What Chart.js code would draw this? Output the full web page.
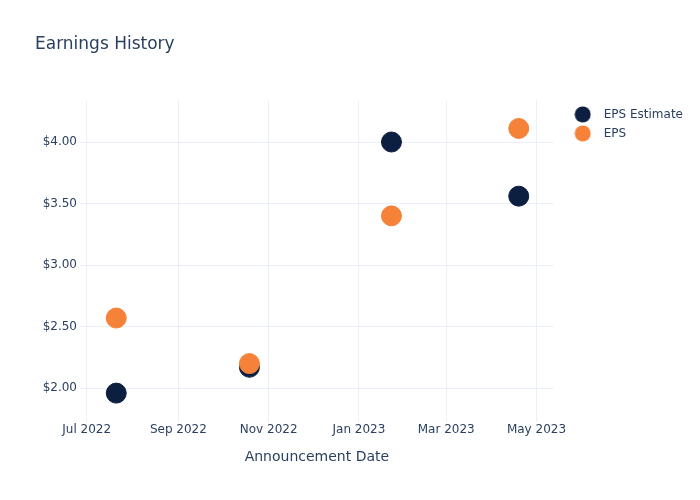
<!DOCTYPE html>
<html>
<head>
	<title>Earnings History</title>
	<script src="https://cdn.jsdelivr.net/npm/chart.js"></script>
	<style type="text/css">
		body { margin: 0; padding: 0; background: #fff; }
		#wrap { width: 700px; height: 500px; }
	</style>
</head>
<body>
	<div id="wrap"><canvas id="chart" width="700" height="500"></canvas></div>

	<script>
		// data
		var dates = ['2022-07-21', '2022-10-19', '2023-01-23', '2023-04-19'];
		var epsEstimate = [1.96, 2.17, 4.00, 3.56];
		var eps = [2.57, 2.20, 3.40, 4.11];

		var xTickDates = ['2022-07-01', '2022-09-01', '2022-11-01', '2023-01-01', '2023-03-01', '2023-05-01'];
		var xTickLabels = ['Jul 2022', 'Sep 2022', 'Nov 2022', 'Jan 2023', 'Mar 2023', 'May 2023'];
		var yTicks = [2.0, 2.5, 3.0, 3.5, 4.0];

		function ts(s) { return new Date(s + 'T00:00:00Z').getTime(); }

		var xTickValues = xTickDates.map(ts);
		var font = "'DejaVu Sans', Verdana, sans-serif";
		var textColor = '#2a3f5f';
		var gridColor = '#ebf0f8';

		// small round swatch for the legend
		function dot(color) {
			var c = document.createElement('canvas');
			c.width = 17; c.height = 17;
			var g = c.getContext('2d');
			g.fillStyle = color;
			g.beginPath();
			g.arc(8.5, 8.5, 8, 0, Math.PI * 2);
			g.fill();
			return c;
		}

		// nudge the legend to the right of the plot area, like the original
		var legendShift = {
			id: 'legendShift',
			afterLayout: function(chart) {
				chart.legend.left += 7;
				chart.legend.right += 7;
				chart.legend.top += 1;
			}
		};

		var ctx = document.getElementById('chart').getContext('2d');
		var chart = new Chart(ctx, {
			type: 'scatter',
			data: {
				datasets: [{
					label: 'EPS Estimate',
					data: dates.map((d, i) => ({ x: ts(d), y: epsEstimate[i] })),
					backgroundColor: '#0c1f40',
					borderColor: '#0c1f40',
					pointRadius: 10,
					pointHoverRadius: 10,
					order: 1
				}, {
					label: 'EPS',
					data: dates.map((d, i) => ({ x: ts(d), y: eps[i] })),
					backgroundColor: '#f6823a',
					borderColor: '#f6823a',
					pointRadius: 10,
					pointHoverRadius: 10,
					order: 0
				}]
			},
			options: {
				responsive: false,
				animation: false,
				layout: { padding: { top: 0, left: 35, right: 14, bottom: 34 } },
				plugins: {
					title: {
						display: true,
						text: 'Earnings History',
						align: 'start',
						color: textColor,
						font: { family: font, size: 17, weight: 'normal' },
						padding: { top: 34, bottom: 46 }
					},
					legend: {
						position: 'right',
						align: 'start',
						fullSize: false,
						labels: {
							usePointStyle: true,
							pointStyleWidth: 30,
							color: textColor,
							font: { family: font, size: 12 },
							padding: 7,
							sort: (a, b) => a.datasetIndex - b.datasetIndex,
							generateLabels: function(chart) {
								var items = Chart.defaults.plugins.legend.labels.generateLabels(chart);
								items.forEach(it => { it.pointStyle = dot(it.fillStyle); });
								return items;
							}
						}
					},
					tooltip: { enabled: false }
				},
				scales: {
					x: {
						type: 'linear',
						min: ts('2022-06-26') + 12 * 3600000,
						max: ts('2023-05-12') + 16 * 3600000,
						afterBuildTicks: function(axis) {
							axis.ticks = xTickValues.map(v => ({ value: v }));
						},
						ticks: {
							color: textColor,
							font: { family: font, size: 12 },
							padding: 1,
							maxRotation: 0,
							autoSkip: false,
							callback: function(v) {
								var i = xTickValues.indexOf(v);
								return i >= 0 ? xTickLabels[i] : '';
							}
						},
						grid: { color: gridColor, drawTicks: false },
						border: { display: false },
						title: {
							display: true,
							text: 'Announcement Date',
							color: textColor,
							font: { family: font, size: 14 },
							padding: { top: 11, bottom: 0 }
						}
					},
					y: {
						min: 1.727,
						max: 4.338,
						afterBuildTicks: function(axis) {
							axis.ticks = yTicks.map(v => ({ value: v }));
						},
						afterFit: function(axis) { axis.width = 45; },
						ticks: {
							color: textColor,
							font: { family: font, size: 12 },
							padding: 3,
							callback: function(v) { return '$' + v.toFixed(2); }
						},
						grid: { color: gridColor, drawTicks: false },
						border: { display: false }
					}
				}
			},
			plugins: [legendShift]
		});
	</script>
</body>
</html>
